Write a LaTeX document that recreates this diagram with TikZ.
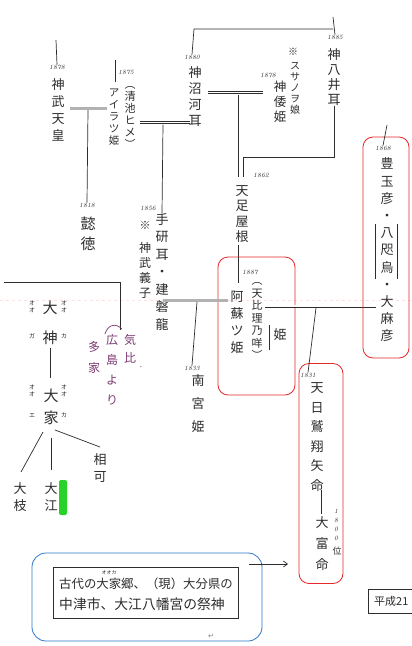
\documentclass[tikz,border=0pt]{standalone}
\usepackage{fontspec}
\newfontfamily\jpf{Noto Sans CJK JP}
\newfontfamily\djv{DejaVu Sans}
\usetikzlibrary{arrows.meta}
\definecolor{ink}{RGB}{45,45,45}
\definecolor{redbox}{RGB}{230,40,40}
\definecolor{bluebox}{RGB}{45,120,200}
\definecolor{purp}{RGB}{125,60,115}
\definecolor{marker}{RGB}{40,210,40}
\tikzset{
  vt/.style 2 args={font=\jpf\fontsize{#1}{#2}\selectfont, align=center, inner sep=0pt, text=ink},
  yr/.style={font=\itshape\fontsize{6.5}{8}\selectfont, inner sep=0pt, text=ink, align=center},
  ln/.style={draw=ink, line width=0.7pt},
  gm/.style={draw=gray!60, line width=3pt},
  dm/.style={draw=ink, double=white, double distance=1.8pt, line width=0.6pt},
  rbox/.style={draw=redbox, line width=0.8pt, rounded corners=10pt, inner sep=0pt},
}
\begin{document}
\begin{tikzpicture}[x=1pt,y=-1pt]
\useasboundingbox (0,0) rectangle (412,646);
\fill[white] (0,0) rectangle (412,646);
% faint scan artefact
\draw[red!12, dashed, line width=0.4pt] (0,300) -- (412,300);

% ---- Jimmu
\coordinate (jtop) at (56,40);
\node[yr] (y1) at (57,67) {1878};
\node[vt={13}{17}] (jimmu) at (58,110) {神\\武\\天\\皇};
\draw[ln] (jtop) -- (y1.north);
\coordinate (m1a) at (70,108);
\coordinate (m1b) at (107,108);
\coordinate (m1c) at (88,110);
\draw[gm] (m1a) -- (m1b);
\node[yr] (y2) at (87,205) {1818};
\node[vt={15}{20}] (itoku) at (88,234) {懿\\徳};
\draw[ln] (m1c) -- (y2.north);

% ---- Airatsu
\coordinate (atop) at (115,60);
\coordinate (abot) at (115,82);
\draw[ln] (atop) -- (abot);
\node[vt={10.5}{12}] (aira) at (114,117) {ア\\イ\\ラ\\ツ\\姫};
\node[yr] (y3) at (126,72) {1875};
\node[vt={11}{12}] (kiyo) at (130,117) {︵\\清\\池\\ヒ\\メ\\︶};

% ---- marriage 2
\coordinate (m2a) at (140,122.5);
\coordinate (m2b) at (190,122.5);
\coordinate (m2c) at (163,124.5);
\draw[dm] (m2a) -- (m2b);
\node[yr] (y4) at (148,208) {1856};
\node[vt={11}{15}] (kome1) at (145,225) {※};
\node[vt={12}{15}] (gishi) at (145,270) {神\\武\\義\\子};
\node[vt={13}{17.5}] (tagishi) at (162,272) {手\\研\\耳\\・\\建\\磐\\龍};
\draw[ln] (m2c) -- (tagishi.north);

% ---- top
\coordinate (tl) at (194,29);
\coordinate (tr) at (333,29);
\coordinate (ttop) at (333,17);
\node[yr] (y5) at (192,57) {1880};
\node[vt={13}{16}] (nuna) at (195,97) {神\\沼\\河\\耳};
\draw[ln] (y5.north) -- (tl) -- (tr);
\node[yr] (y6) at (335,37) {1885};
\node[vt={13}{15}] (yai) at (334,77) {神\\八\\井\\耳};
\draw[ln] (ttop) -- (y6.north);
\coordinate (yc2) at (243,157);
\coordinate (yc3) at (243,177);
\draw[ln] (yai.south) |- (yc2) -- (yc3);

% ---- marriage 3
\coordinate (m3a) at (208,92.5);
\coordinate (m3b) at (263,92.5);
\coordinate (m3c) at (238,94.5);
\coordinate (m3d) at (238,177);
\draw[dm] (m3a) -- (m3b);
\draw[ln] (m3c) -- (m3d);
\node[yr] (y7) at (268,75) {1878};
\node[vt={10}{15}] (kome2) at (293,52) {※};
\node[vt={10}{11}] (susa) at (295,88) {ス\\サ\\ノ\\ヲ\\娘};
\node[vt={12.5}{15}] (yamato) at (280,102) {神\\倭\\姫};
\node[yr] (y8) at (261,175) {1862};
\node[vt={13}{15.5}] (tara) at (242,214) {天\\足\\屋\\根};
\coordinate (tb) at (238,245);
\coordinate (ab) at (238,283);
\draw[ln] (tb) -- (ab);

% ---- box B
\node[rbox, minimum width=77pt, minimum height=138pt] (boxB) at (256.5,326) {};
\node[yr] (y9) at (250,272) {1887};
\node[vt={13}{17}] (aso) at (237,322) {阿\\蘇\\ツ\\姫};
\node[vt={11}{12.5}] (hiri) at (257,321) {︵\\天\\比\\理\\乃\\咩\\︶};
\node[vt={13}{15}] (hime2) at (280,335) {姫};
\coordinate (hd1) at (268,325);
\coordinate (hd2) at (268,350);
\draw[dm] (hd1) -- (hd2);

% ---- marriage 4
\coordinate (m4a) at (163,300);
\coordinate (m4b) at (228,300);
\coordinate (m4c) at (197,302);
\draw[gm] (m4a) -- (m4b);
\node[yr] (y10) at (192,368) {1833};
\node[vt={13}{23}] (minami) at (198,404) {南\\宮\\姫};
\draw[ln] (m4c) -- (y10.north);

% ---- marriage 5
\coordinate (m5a) at (265,306);
\coordinate (m5b) at (376,306);
\coordinate (m5c) at (316,308);
\draw[dm] (m5a) -- (m5b);

% ---- box C
\node[rbox, minimum width=44pt, minimum height=220pt] (boxC) at (321,473.5) {};
\node[yr] (y11) at (308,375) {1831};
\draw[ln] (m5c) -- (y11.north);
\node[vt={13}{19.5}] (washi) at (317,437) {天\\日\\鷲\\翔\\矢\\命};
\coordinate (wd1) at (320,490);
\coordinate (wd2) at (320,514);
\draw[dm] (wd1) -- (wd2);
\node[vt={13}{21}] (otomi) at (322,544) {大\\富\\命};
\node[yr, font=\itshape\fontsize{6.5}{9}\selectfont] (y12) at (336,525) {1\\8\\0\\0};
\node[vt={9}{10}] (kurai) at (337,551) {位};

% ---- box A
\node[rbox, minimum width=46pt, minimum height=221pt] (boxA) at (386,247.5) {};
\coordinate (atop2) at (387,125);
\node[yr] (y13) at (383,148) {1868};
\draw[ln] (atop2) -- (y13.north);
\node[vt={13}{17.2}] (toyo) at (387,250) {豊\\玉\\彦\\・\\八\\咫\\烏\\・\\大\\麻\\彦};
\coordinate (ya1) at (375,224);
\coordinate (ya2) at (375,279);
\coordinate (ya3) at (397,224);
\coordinate (ya4) at (397,279);
\draw[ln] (ya1) -- (ya2);
\draw[ln] (ya3) -- (ya4);

% ---- left section
\coordinate (l1) at (4,282);
\coordinate (l2) at (120,282);
\coordinate (l3) at (120,330);
\draw[ln] (l1) -- (l2) -- (l3);
\draw[purp, line width=0.7pt] (105,334) .. controls (108,324) and (116,323) .. (122,329);
\node[vt={12}{18}, text=purp] (kehi) at (130,349) {気\\比};
\node[vt={8}{8}, text=purp] (kdot) at (141,367) {.};
\node[vt={12}{20}, text=purp] (hiro) at (112,370) {広\\島\\よ\\り};
\node[vt={12}{21}, text=purp] (oke) at (94,357) {多\\家};

\node[vt={15}{30}] (ogami) at (50,323) {大\\神};
\node[vt={6}{7}] (f1) at (32,307) {オ\\オ};
\node[vt={6}{7}] (f2) at (32,336) {ガ};
\node[vt={6}{7}] (f3) at (64,307) {オ\\オ};
\node[vt={6}{7}] (f4) at (64,336) {カ};
\coordinate (g1) at (50,348);
\coordinate (g2) at (50,378);
\draw[ln] (g1) -- (g2);
\node[vt={15}{22}] (oie) at (51,407) {大\\家};
\node[vt={6}{7}] (f5) at (32,391) {オ\\オ};
\node[vt={6}{7}] (f6) at (32,415) {エ};
\node[vt={6}{7}] (f7) at (64,391) {オ\\オ};
\node[vt={6}{7}] (f8) at (64,415) {カ};
\node[vt={13}{17}] (aika) at (100,468) {相\\可};
\node[vt={13}{17}] (oeda) at (20,497) {大\\枝};
\node[vt={13}{17}] (oe) at (51,497) {大\\江};
\coordinate (b1) at (43,432);
\coordinate (b2) at (21,472);
\coordinate (b3) at (51,438);
\coordinate (b4) at (51,470);
\coordinate (b5) at (55,430);
\coordinate (b6) at (100,447);
\draw[ln] (b1) -- (b2);
\draw[ln] (b3) -- (b4);
\draw[ln] (b5) -- (b6);
\fill[marker, rounded corners=2pt] (59,480) rectangle (67,515);

% ---- bottom note
\node[draw=bluebox, line width=0.8pt, rounded corners=14pt, minimum width=230pt, minimum height=88pt, inner sep=0pt] (bbox) at (147,597) {};
\node[draw=ink, line width=0.8pt, minimum width=185pt, minimum height=51pt, inner sep=0pt] (ibox) at (145.5,592.5) {};
\node[vt={12.4}{14}, anchor=west] (t1) at (59,584) {古代の大家郷、（現）大分県の};
\node[vt={13.8}{14}, anchor=west] (t2) at (59,604) {中津市、大江八幡宮の祭神};
\node[vt={5}{6}] (ruby) at (109,573) {オオカ};
\node[font=\djv\fontsize{7}{8}\selectfont, text=gray, inner sep=0pt] (ret) at (211,636) {↵};
\coordinate (ar1) at (249,564);
\coordinate (ar2) at (288,564);
\draw[ln, -{Straight Barb[length=4pt,width=6pt]}] (ar1) -- (ar2);

% ---- bottom-right cut note
\node[draw=ink, line width=0.8pt, minimum width=62pt, minimum height=24pt, inner sep=0pt] (hbox) at (399,601) {};
\node[vt={11}{12}, anchor=west] (heisei) at (374,601) {平成21};
\end{tikzpicture}
\end{document}
